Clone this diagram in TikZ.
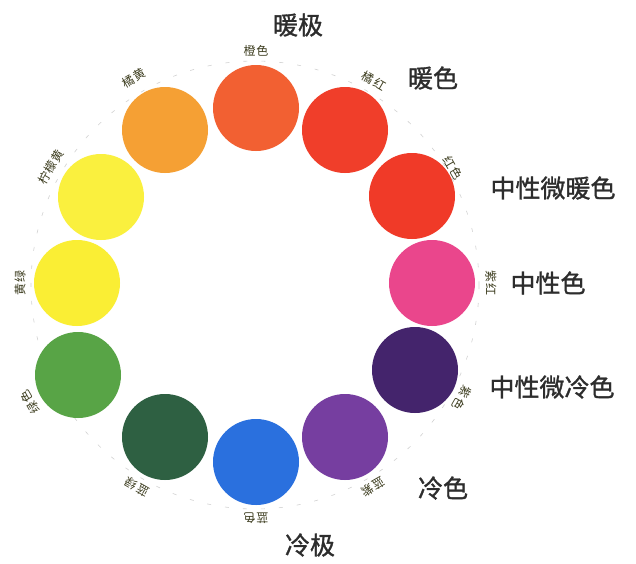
\documentclass[tikz,border=0pt]{standalone}
\usepackage{fontspec}
\newfontfamily\cjk{Noto Sans CJK SC}
\newfontfamily\cjkb{Noto Sans CJK SC}[FakeBold=1.2]
\newfontfamily\cjks{Noto Sans CJK SC}[LetterSpace=8]
\definecolor{c1}{RGB}{242,96,50}
\definecolor{c2}{RGB}{240,62,42}
\definecolor{c3}{RGB}{240,58,40}
\definecolor{c4}{RGB}{234,70,140}
\definecolor{c5}{RGB}{68,36,108}
\definecolor{c6}{RGB}{118,62,160}
\definecolor{c7}{RGB}{42,112,222}
\definecolor{c8}{RGB}{46,96,66}
\definecolor{c9}{RGB}{88,164,70}
\definecolor{c10}{RGB}{250,238,52}
\definecolor{c11}{RGB}{250,240,62}
\definecolor{c12}{RGB}{245,160,52}
\definecolor{txt}{RGB}{45,45,45}
\definecolor{small}{RGB}{60,60,30}
\tikzset{
  disc/.style={circle,minimum size=86pt,inner sep=0pt},
  big/.style={font=\cjkb\fontsize{25}{25}\selectfont,text=txt,inner sep=0pt},
  sm/.style={font=\cjks\fontsize{12}{12}\selectfont,text=small,inner sep=0pt}
}
\begin{document}
\begin{tikzpicture}[x=1pt,y=-1pt]
\useasboundingbox (0,0) rectangle (636,563);
\fill[white] (0,0) rectangle (636,563);
\draw[gray!35,dash pattern=on 4pt off 14pt,line width=0.6pt] (255,285) circle (224);
% discs
\node[disc,fill=c1] (d1) at (256,108) {};
\node[disc,fill=c2] (d2) at (345,130) {};
\node[disc,fill=c3] (d3) at (412,196) {};
\node[disc,fill=c4] (d4) at (432,283) {};
\node[disc,fill=c5] (d5) at (415,370) {};
\node[disc,fill=c6] (d6) at (345,437) {};
\node[disc,fill=c7] (d7) at (256,462) {};
\node[disc,fill=c8] (d8) at (165,437) {};
\node[disc,fill=c9] (d9) at (78,375) {};
\node[disc,fill=c10] (d10) at (77,283) {};
\node[disc,fill=c11] (d11) at (101,197) {};
\node[disc,fill=c12] (d12) at (165,130) {};
% small labels
\node[sm,rotate=0] (l1) at ([shift={(0,-57)}]d1) {橙色};
\node[sm,rotate=-30] (l2) at ([shift={(29,-49)}]d2) {橘红};
\node[sm,rotate=-60] (l3) at ([shift={(41,-28)}]d3) {红色};
\node[sm,rotate=-90] (l4) at ([shift={(59,0)}]d4) {紫红};
\node[sm,rotate=-120] (l5) at ([shift={(47,28)}]d5) {紫色};
\node[sm,rotate=-150] (l6) at ([shift={(28,50)}]d6) {蓝紫};
\node[sm,rotate=180] (l7) at ([shift={(0,56)}]d7) {蓝色};
\node[sm,rotate=150] (l8) at ([shift={(-28,50)}]d8) {蓝绿};
\node[sm,rotate=120] (l9) at ([shift={(-48,27)}]d9) {绿色};
\node[sm,rotate=90] (l10) at ([shift={(-57,0)}]d10) {黄绿};
\node[sm,rotate=60] (l11) at ([shift={(-50,-30)}]d11) {柠檬黄};
\node[sm,rotate=30] (l12) at ([shift={(-31,-52)}]d12) {橘黄};
% big labels
\node[big] (b1) at (298,25) {暖极};
\node[big] (b2) at (433,78) {暖色};
\node[big] (b3) at (553,188) {中性微暖色};
\node[big] (b4) at (548,283) {中性色};
\node[big] (b5) at (552,387) {中性微冷色};
\node[big] (b6) at (443,488) {冷色};
\node[big] (b7) at (310,545) {冷极};
\end{tikzpicture}
\end{document}
